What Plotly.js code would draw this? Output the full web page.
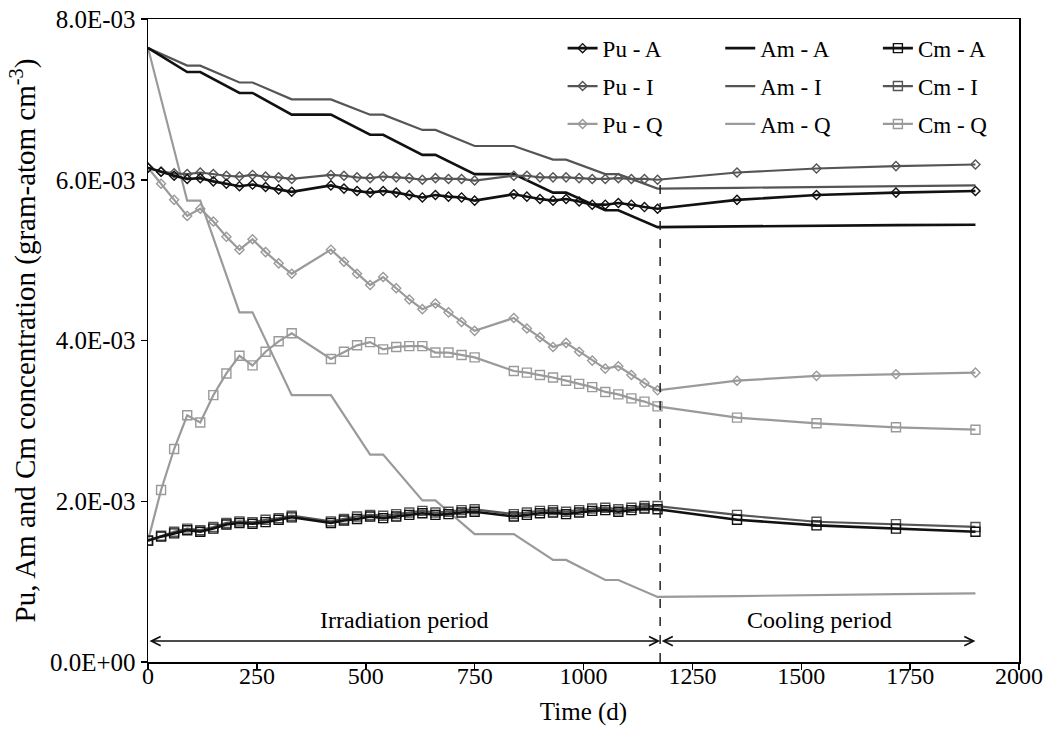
<!DOCTYPE html>
<html>
<head>
<meta charset="utf-8">
<script src="https://cdn.plot.ly/plotly-3.0.1.min.js"></script>
<style>
  html, body { margin: 0; padding: 0; background: #fff; }
  #chart { width: 1054px; height: 734px; }
</style>
</head>
<body>
<div id="chart"></div>
<script>
// Time points (days) for the marked series: irradiation + cooling
const timeDays = [0, 30, 60, 90, 120, 150, 180, 210, 240, 270, 300, 330,
  420, 450, 480, 510, 540, 570, 600, 630, 660, 690, 720, 750,
  840, 870, 900, 930, 960, 990, 1020, 1050, 1080, 1110, 1140, 1170,
  1352.5, 1535, 1717.5, 1900];

// Pu concentrations (gram-atom cm^-3)
const puA = [6.15e-3, 6.10e-3, 6.05e-3, 6.01e-3, 6.02e-3, 5.98e-3, 5.95e-3, 5.92e-3, 5.94e-3, 5.91e-3, 5.88e-3, 5.85e-3,
  5.93e-3, 5.89e-3, 5.86e-3, 5.84e-3, 5.86e-3, 5.84e-3, 5.81e-3, 5.78e-3, 5.81e-3, 5.79e-3, 5.78e-3, 5.74e-3,
  5.82e-3, 5.79e-3, 5.76e-3, 5.74e-3, 5.76e-3, 5.73e-3, 5.69e-3, 5.69e-3, 5.71e-3, 5.69e-3, 5.66e-3, 5.64e-3,
  5.75e-3, 5.81e-3, 5.84e-3, 5.86e-3];
const puI = [6.15e-3, 6.10e-3, 6.08e-3, 6.07e-3, 6.09e-3, 6.07e-3, 6.05e-3, 6.04e-3, 6.06e-3, 6.04e-3, 6.03e-3, 6.01e-3,
  6.06e-3, 6.05e-3, 6.03e-3, 6.02e-3, 6.04e-3, 6.03e-3, 6.02e-3, 6.00e-3, 6.02e-3, 6.01e-3, 6.01e-3, 5.99e-3,
  6.05e-3, 6.05e-3, 6.03e-3, 6.03e-3, 6.03e-3, 6.02e-3, 6.01e-3, 6.01e-3, 6.02e-3, 6.01e-3, 6.01e-3, 6.00e-3,
  6.09e-3, 6.14e-3, 6.17e-3, 6.19e-3];
const puQ = [6.15e-3, 5.95e-3, 5.75e-3, 5.55e-3, 5.64e-3, 5.48e-3, 5.29e-3, 5.13e-3, 5.26e-3, 5.10e-3, 4.96e-3, 4.83e-3,
  5.13e-3, 4.98e-3, 4.83e-3, 4.69e-3, 4.79e-3, 4.65e-3, 4.51e-3, 4.39e-3, 4.46e-3, 4.35e-3, 4.23e-3, 4.12e-3,
  4.28e-3, 4.15e-3, 4.04e-3, 3.92e-3, 3.97e-3, 3.86e-3, 3.75e-3, 3.65e-3, 3.68e-3, 3.57e-3, 3.47e-3, 3.38e-3,
  3.50e-3, 3.56e-3, 3.58e-3, 3.60e-3];

// Cm concentrations
const cmA = [1.51e-3, 1.56e-3, 1.60e-3, 1.64e-3, 1.62e-3, 1.66e-3, 1.71e-3, 1.73e-3, 1.72e-3, 1.74e-3, 1.77e-3, 1.80e-3,
  1.73e-3, 1.76e-3, 1.78e-3, 1.81e-3, 1.79e-3, 1.81e-3, 1.83e-3, 1.85e-3, 1.83e-3, 1.84e-3, 1.86e-3, 1.87e-3,
  1.81e-3, 1.83e-3, 1.85e-3, 1.86e-3, 1.84e-3, 1.86e-3, 1.88e-3, 1.89e-3, 1.87e-3, 1.89e-3, 1.91e-3, 1.90e-3,
  1.77e-3, 1.70e-3, 1.66e-3, 1.62e-3];
const cmI = [1.51e-3, 1.57e-3, 1.62e-3, 1.66e-3, 1.64e-3, 1.68e-3, 1.73e-3, 1.75e-3, 1.74e-3, 1.77e-3, 1.79e-3, 1.82e-3,
  1.75e-3, 1.78e-3, 1.81e-3, 1.83e-3, 1.82e-3, 1.84e-3, 1.86e-3, 1.88e-3, 1.86e-3, 1.87e-3, 1.89e-3, 1.90e-3,
  1.84e-3, 1.86e-3, 1.88e-3, 1.89e-3, 1.87e-3, 1.89e-3, 1.91e-3, 1.92e-3, 1.90e-3, 1.92e-3, 1.94e-3, 1.94e-3,
  1.83e-3, 1.745e-3, 1.715e-3, 1.68e-3];
const cmQ = [1.51e-3, 2.14e-3, 2.65e-3, 3.07e-3, 2.98e-3, 3.32e-3, 3.59e-3, 3.81e-3, 3.69e-3, 3.86e-3, 3.99e-3, 4.09e-3,
  3.77e-3, 3.86e-3, 3.94e-3, 3.98e-3, 3.89e-3, 3.92e-3, 3.93e-3, 3.93e-3, 3.85e-3, 3.85e-3, 3.82e-3, 3.79e-3,
  3.62e-3, 3.60e-3, 3.57e-3, 3.54e-3, 3.50e-3, 3.46e-3, 3.42e-3, 3.36e-3, 3.33e-3, 3.28e-3, 3.24e-3, 3.18e-3,
  3.04e-3, 2.97e-3, 2.92e-3, 2.89e-3];

// Am series: read at the corners of the drawn (unmarked) lines
const amTime = [0, 90, 120, 210, 240, 330, 420, 510, 540, 630, 660, 750, 840, 930, 960, 1050, 1080, 1170,
  1352.5, 1535, 1717.5, 1900];
const amA = [7.64e-3, 7.34e-3, 7.34e-3, 7.08e-3, 7.08e-3, 6.81e-3, 6.81e-3, 6.56e-3, 6.56e-3, 6.31e-3, 6.31e-3, 6.07e-3,
  6.07e-3, 5.84e-3, 5.84e-3, 5.62e-3, 5.62e-3, 5.41e-3, 5.42e-3, 5.43e-3, 5.435e-3, 5.44e-3];
const amI = [7.64e-3, 7.42e-3, 7.42e-3, 7.21e-3, 7.21e-3, 7.00e-3, 7.00e-3, 6.81e-3, 6.81e-3, 6.62e-3, 6.62e-3, 6.42e-3,
  6.42e-3, 6.25e-3, 6.25e-3, 6.07e-3, 6.07e-3, 5.89e-3, 5.90e-3, 5.91e-3, 5.92e-3, 5.93e-3];
const amQ = [7.64e-3, 5.74e-3, 5.74e-3, 4.35e-3, 4.35e-3, 3.32e-3, 3.32e-3, 2.58e-3, 2.58e-3, 2.01e-3, 2.01e-3, 1.59e-3,
  1.59e-3, 1.27e-3, 1.27e-3, 1.02e-3, 1.02e-3, 0.81e-3, 0.82e-3, 0.835e-3, 0.845e-3, 0.855e-3];

// Axis ticks
const xTicks = [0, 250, 500, 750, 1000, 1250, 1500, 1750, 2000];
const yTickVals = [0, 0.002, 0.004, 0.006, 0.008];
const yTickText = ['0.0E+00', '2.0E-03', '4.0E-03', '6.0E-03', '8.0E-03'];

// Period markers
const irradiationEnd = 1176;
const coolingEnd = 1900;

const FONT = 'Liberation Serif, Times New Roman, serif';
const BLACK = '#111111', DARK = '#555555', LIGHT = '#9a9a9a';

function marked(name, y, color, sym, lw, legend, rank) {
  const isSq = sym.indexOf('square') === 0;
  return {
    type: 'scatter', mode: 'lines+markers', name: name, x: timeDays, y: y,
    line: { color: color, width: lw },
    marker: { symbol: sym, size: isSq ? 9 : 7, color: color, line: { color: color, width: 1.4 } },
    legend: legend, legendgroup: name, legendrank: rank
  };
}
function plain(name, y, color, lw, legend, rank) {
  return {
    type: 'scatter', mode: 'lines', name: name, x: amTime, y: y,
    line: { color: color, width: lw }, legend: legend, legendgroup: name, legendrank: rank
  };
}

const traces = [
  plain('Am - Q', amQ, LIGHT, 2.2, 'legend2', 3),
  marked('Cm - Q', cmQ, LIGHT, 'square-open', 2.2, 'legend3', 3),
  marked('Pu - Q', puQ, LIGHT, 'diamond-open', 2.2, 'legend', 3),
  plain('Am - I', amI, DARK, 2.2, 'legend2', 2),
  plain('Am - A', amA, BLACK, 2.6, 'legend2', 1),
  marked('Pu - I', puI, DARK, 'diamond-open', 2.2, 'legend', 2),
  marked('Pu - A', puA, BLACK, 'diamond-open', 2.6, 'legend', 1),
  marked('Cm - I', cmI, DARK, 'square-open', 2.2, 'legend3', 2),
  marked('Cm - A', cmA, BLACK, 'square-open', 2.6, 'legend3', 1)
];

const legendBase = {
  font: { family: FONT, size: 23, color: '#000' },
  bgcolor: 'rgba(0,0,0,0)', borderwidth: 0,
  traceorder: 'grouped', tracegroupgap: 5,
  yanchor: 'top', y: 0.988, xanchor: 'left'
};

const layout = {
  width: 1054, height: 734,
  margin: { l: 148, r: 35, t: 19, b: 72 },
  paper_bgcolor: '#fff', plot_bgcolor: '#fff',
  font: { family: FONT, size: 24, color: '#000' },
  showlegend: true,
  legend: Object.assign({}, legendBase, { x: 0.476 }),
  legend2: Object.assign({}, legendBase, { x: 0.657 }),
  legend3: Object.assign({}, legendBase, { x: 0.838 }),
  xaxis: {
    range: [0, 2000], tickvals: xTicks, ticktext: xTicks.map(String),
    ticks: 'outside', ticklen: 6, tickwidth: 1.5, tickcolor: '#000',
    ticklabelstandoff: -14,
    showline: true, linecolor: '#000', linewidth: 1.5, mirror: true,
    showgrid: false, zeroline: false,
    tickfont: { family: FONT, size: 24, color: '#000' },
    title: { text: 'Time (d)', font: { family: FONT, size: 25, color: '#000' }, standoff: 14 }
  },
  yaxis: {
    range: [0, 0.008], tickvals: yTickVals, ticktext: yTickText,
    ticks: 'outside', ticklen: 6, tickwidth: 1.5, tickcolor: '#000',
    showline: true, linecolor: '#000', linewidth: 1.5, mirror: true,
    showgrid: false, zeroline: false,
    tickfont: { family: FONT, size: 25, color: '#000' },
    title: { text: 'Pu, Am and Cm concentration (gram-atom cm<sup>-3</sup>)', font: { family: FONT, size: 29, color: '#000' }, standoff: 5 }
  },
  shapes: [
    { type: 'line', xref: 'x', yref: 'y', x0: irradiationEnd, x1: irradiationEnd, y0: 0, y1: 0.006,
      line: { color: '#222', width: 1.5, dash: 'dash' } }
  ],
  annotations: [
    { xref: 'x', yref: 'y', axref: 'x', ayref: 'y', x: irradiationEnd, y: 0.00026, ax: 0, ay: 0.00026,
      text: '', showarrow: true, arrowside: 'end+start', arrowhead: 5, startarrowhead: 5,
      arrowsize: 1.2, startarrowsize: 1.2, arrowwidth: 1.5, arrowcolor: '#111', standoff: 0, startstandoff: 0 },
    { xref: 'x', yref: 'y', axref: 'x', ayref: 'y', x: coolingEnd, y: 0.00026, ax: irradiationEnd, ay: 0.00026,
      text: '', showarrow: true, arrowside: 'end+start', arrowhead: 5, startarrowhead: 5,
      arrowsize: 1.2, startarrowsize: 1.2, arrowwidth: 1.5, arrowcolor: '#111', standoff: 0, startstandoff: 0 },
    { xref: 'x', yref: 'y', x: 588, y: 0.00052, text: 'Irradiation period', showarrow: false,
      font: { family: FONT, size: 24, color: '#000' } },
    { xref: 'x', yref: 'y', x: 1543, y: 0.00052, text: 'Cooling period', showarrow: false,
      font: { family: FONT, size: 24, color: '#000' } }
  ]
};

Plotly.newPlot('chart', traces, layout, { displayModeBar: false, staticPlot: true });
</script>
</body>
</html>
